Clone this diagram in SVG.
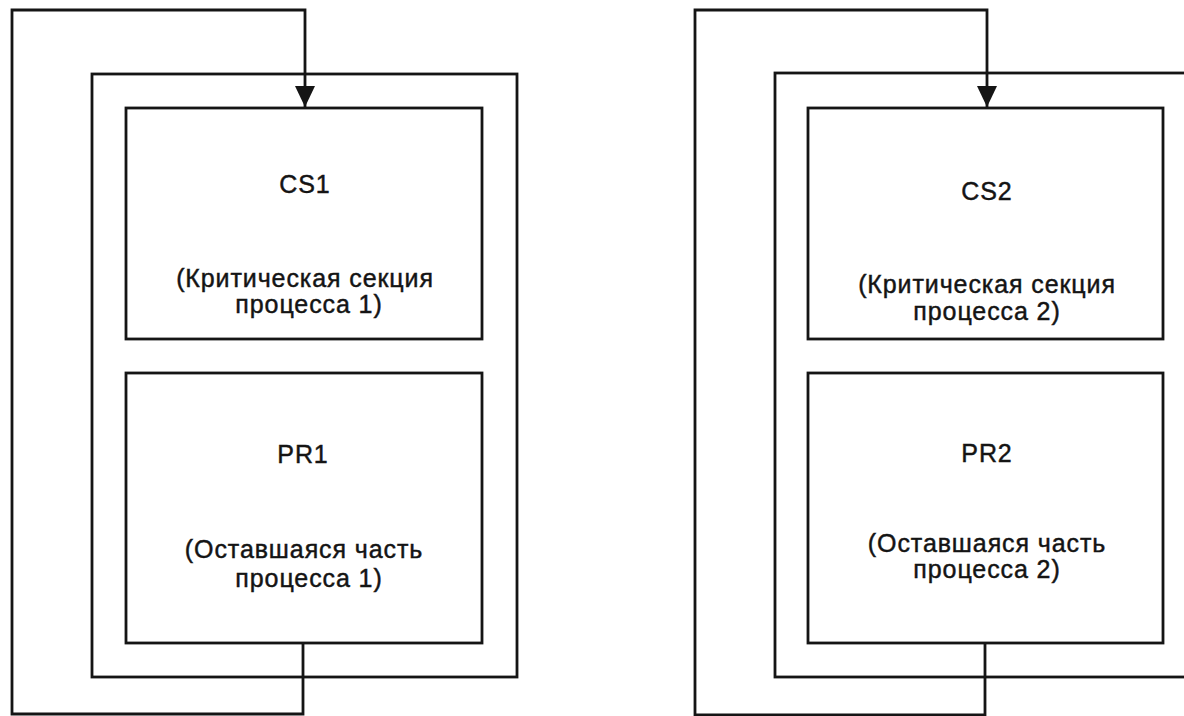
<svg xmlns="http://www.w3.org/2000/svg" width="1184" height="716" viewBox="0 0 1184 716">
<style>
.box{fill:none;stroke:#151515;stroke-width:2.8}
.conn{fill:none;stroke:#151515;stroke-width:2.8}
.t{font-family:"Liberation Sans",Arial,sans-serif;font-size:25px;fill:#141414;stroke:#141414;stroke-width:0.45;text-anchor:middle;letter-spacing:0.9px}
</style>
<defs>
<marker id="arr" markerUnits="userSpaceOnUse" markerWidth="22" markerHeight="22" viewBox="0 0 22 22" refX="21" refY="11" orient="auto">
<path d="M0,1 L21,11 L0,21 Z" fill="#151515"/>
</marker>
</defs>
<rect width="1184" height="716" fill="#ffffff"/>
<g id="process1">
<rect class="box" x="92" y="74" width="425" height="603"/>
</g>
<g id="process2">
<rect class="box" x="775" y="73" width="430" height="604"/>
</g>
<g id="cs1">
<rect class="box" x="126" y="108" width="356" height="231"/>
<text class="t" x="305" y="193">CS1</text>
<text class="t" x="305" y="287">(Критическая секция</text>
<text class="t" x="309" y="313">процесса 1)</text>
</g>
<g id="pr1">
<rect class="box" x="126" y="373" width="356" height="270"/>
<text class="t" x="303" y="463">PR1</text>
<text class="t" x="304" y="558">(Оставшаяся часть</text>
<text class="t" x="309" y="587">процесса 1)</text>
</g>
<g id="cs2">
<rect class="box" x="808" y="108" width="355" height="231"/>
<text class="t" x="987" y="200">CS2</text>
<text class="t" x="987" y="293">(Критическая секция</text>
<text class="t" x="987" y="320">процесса 2)</text>
</g>
<g id="pr2">
<rect class="box" x="808" y="373" width="355" height="270"/>
<text class="t" x="987" y="462">PR2</text>
<text class="t" x="987" y="552">(Оставшаяся часть</text>
<text class="t" x="987" y="578">процесса 2)</text>
</g>
<g id="connectors">
<path class="conn" d="M303,643 L303,714 L12,714 L12,10 L305,10 L305,107" marker-end="url(#arr)"/>
<path class="conn" d="M985,643 L985,715 L695,715 L695,10 L987,10 L987,107" marker-end="url(#arr)"/>
</g>
</svg>
